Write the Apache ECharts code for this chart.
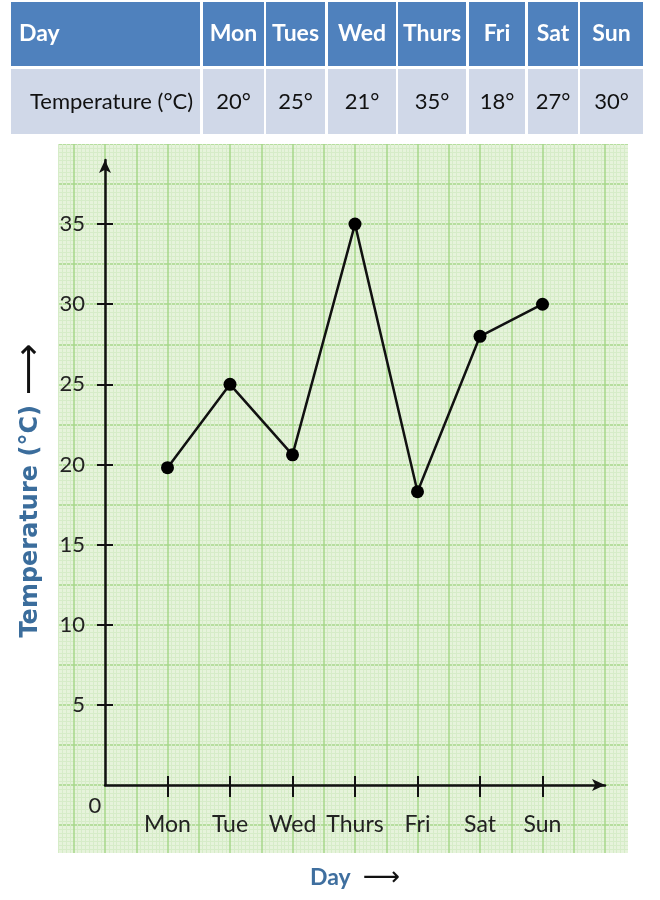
<!DOCTYPE html>
<html>
<head>
    <meta charset="utf-8"/>
    <style type="text/css">
        body, html {
            width: 100%;
            height: 100%;
            margin: 0;
            background: #fff;
        }

        #chart {
            width: 660px;
            height: 900px;
        }
    </style>
    <script src="https://cdn.jsdelivr.net/npm/echarts@6/dist/echarts.min.js"></script>
    <title>Temperature</title>
</head>
<body>
<div id="chart"></div>
<script type="text/javascript">
    // table data
    var tableDays = ['Mon', 'Tues', 'Wed', 'Thurs', 'Fri', 'Sat', 'Sun'];
    var tableTemps = ['20°', '25°', '21°', '35°', '18°', '27°', '30°'];

    // plotted points
    var axisDays = ['Mon', 'Tue', 'Wed', 'Thurs', 'Fri', 'Sat', 'Sun'];
    var plotted = [19.8, 25, 20.6, 35, 18.3, 28, 30];
    var yTicks = [5, 10, 15, 20, 25, 30, 35];

    // categories with an empty slot at the origin and one before the arrow
    var cats = [''].concat(axisDays).concat([' ']);
    var innerCat = function (idx) {
        return idx > 0 && idx < cats.length - 1;
    };

    var labelFont = 'Lato';
    var paperMajor = '#a6d78a';
    var paperMinor = '#d6ecc8';

    // table drawn as graphic elements
    var colEdges = [[11, 200], [203, 264], [266, 325], [328, 396], [398, 466], [469, 525], [528, 578], [580, 643]];
    var tableEls = [];
    var rows = [[2, 66, '#4f81bd'], [69, 134, '#d0d8e8']];
    rows.forEach(function (r, ri) {
        colEdges.forEach(function (c, ci) {
            tableEls.push({
                type: 'rect', z: 100,
                shape: {x: c[0], y: r[0], width: c[1] - c[0], height: r[1] - r[0]},
                style: {fill: r[2]}
            });
            var txt;
            if (ci === 0) txt = ri === 0 ? 'Day' : 'Temperature (°C)';
            else txt = ri === 0 ? tableDays[ci - 1] : tableTemps[ci - 1];
            tableEls.push({
                type: 'text', z: 101,
                x: ci === 0 ? (ri === 0 ? 19 : 30) : (c[0] + c[1]) / 2,
                y: (r[0] + r[1]) / 2,
                style: {
                    text: txt,
                    fill: ri === 0 ? '#fff' : '#111',
                    font: (ri === 0 ? 'bold 23px ' : '22px ') + labelFont,
                    align: ci === 0 ? 'left' : 'center',
                    verticalAlign: 'middle'
                }
            });
        });
    });

    // white strips trimming the paper edges
    var covers = [
        {type: 'rect', z: 1, shape: {x: 0, y: 138, width: 58, height: 740}, style: {fill: '#fff'}},
        {type: 'rect', z: 1, shape: {x: 628, y: 138, width: 32, height: 740}, style: {fill: '#fff'}},
        {type: 'rect', z: 1, shape: {x: 0, y: 853, width: 660, height: 20}, style: {fill: '#fff'}},
        {type: 'rect', z: 1, shape: {x: 0, y: 136, width: 660, height: 8}, style: {fill: '#fff'}},
        {
            type: 'text', z: 20, x: 95, y: 806,
            style: {text: '0', fill: '#222', font: '22px ' + labelFont, align: 'center', verticalAlign: 'middle'}
        }
    ];

    var myChart = echarts.init(document.getElementById('chart'));

    var option = {
        animation: false,
        backgroundColor: '#fff',
        graphic: tableEls.concat(covers),
        grid: [
            {left: 42.5, right: 23.75, top: 144, bottom: 34.9, show: true, backgroundColor: '#e6f3db', borderWidth: 0},
            {left: 105, right: 55, top: 160, bottom: 115}
        ],
        xAxis: [
            {
                gridIndex: 0, type: 'value', min: -1, max: 8.5, interval: 0.5,
                axisLine: {show: false}, axisTick: {show: false}, axisLabel: {show: false},
                splitLine: {lineStyle: {color: paperMajor, width: 1.5}},
                minorTick: {show: true, splitNumber: 8, length: 0},
                minorSplitLine: {show: true, lineStyle: {color: paperMinor, width: 1}}
            },
            {
                gridIndex: 1, type: 'category', data: cats, boundaryGap: false, position: 'bottom', z: 10,
                axisLine: {show: true, symbol: ['none', 'arrow'], symbolSize: [9, 13], lineStyle: {color: '#111', width: 2.5}},
                axisTick: {show: true, inside: true, length: 9, interval: innerCat, lineStyle: {color: '#111', width: 2}},
                axisLabel: {interval: innerCat, margin: 28, color: '#222', fontSize: 23, fontFamily: labelFont},
                splitLine: {show: false},
                name: '{d|Day}{a|⟶}',
                nameLocation: 'middle',
                nameGap: 80,
                nameTextStyle: {
                    rich: {
                        d: {color: '#3f6f9f', fontWeight: 'bold', fontSize: 23, fontFamily: labelFont},
                        a: {color: '#111', fontSize: 26, fontFamily: 'DejaVu Sans', padding: [0, 0, 0, 12]}
                    }
                }
            },
            {
                gridIndex: 1, type: 'category', data: cats, boundaryGap: false, position: 'bottom', z: 10,
                axisLine: {show: false},
                axisTick: {show: true, inside: false, length: 12, interval: innerCat, lineStyle: {color: '#111', width: 2}},
                axisLabel: {show: false},
                splitLine: {show: false}
            }
        ],
        yAxis: [
            {
                gridIndex: 0, type: 'value', min: -5, max: 40, interval: 2.5,
                axisLine: {show: false}, axisTick: {show: false}, axisLabel: {show: false},
                splitLine: {lineStyle: {color: paperMajor, width: 1.5}},
                minorTick: {show: true, splitNumber: 10, length: 0},
                minorSplitLine: {show: true, lineStyle: {color: paperMinor, width: 1}}
            },
            {
                gridIndex: 1, type: 'value', min: 0, max: 39, interval: 5, position: 'left', z: 10,
                axisLine: {show: true, symbol: ['none', 'arrow'], symbolSize: [9, 13], lineStyle: {color: '#111', width: 2.5}},
                axisTick: {show: true, inside: true, length: 8, customValues: yTicks, lineStyle: {color: '#111', width: 2}},
                axisLabel: {customValues: yTicks, margin: 20, color: '#222', fontSize: 22, fontFamily: labelFont},
                splitLine: {show: false},
                name: '{t|Temperature (°C)}{a|⟶}',
                nameLocation: 'middle',
                nameGap: 54,
                nameTextStyle: {
                    rich: {
                        t: {color: '#3b6d9c', fontWeight: 'bold', fontSize: 24, fontFamily: 'DejaVu Sans'},
                        a: {color: '#111', fontSize: 36, fontFamily: 'DejaVu Sans', padding: [0, 36, 0, 10]}
                    }
                }
            },
            {
                gridIndex: 1, type: 'value', min: 0, max: 39, interval: 5, position: 'left', z: 10,
                axisLine: {show: false},
                axisTick: {show: true, inside: false, length: 8, customValues: yTicks, lineStyle: {color: '#111', width: 2}},
                axisLabel: {show: false},
                splitLine: {show: false}
            }
        ],
        series: [
            {
                type: 'line',
                xAxisIndex: 1,
                yAxisIndex: 1,
                z: 12,
                data: axisDays.map(function (d, i) {
                    return [d, plotted[i]];
                }),
                symbol: 'circle',
                symbolSize: 13,
                itemStyle: {color: '#000'},
                lineStyle: {color: '#111', width: 2.5}
            }
        ]
    };
    myChart.setOption(option);
</script>
</body>
</html>
